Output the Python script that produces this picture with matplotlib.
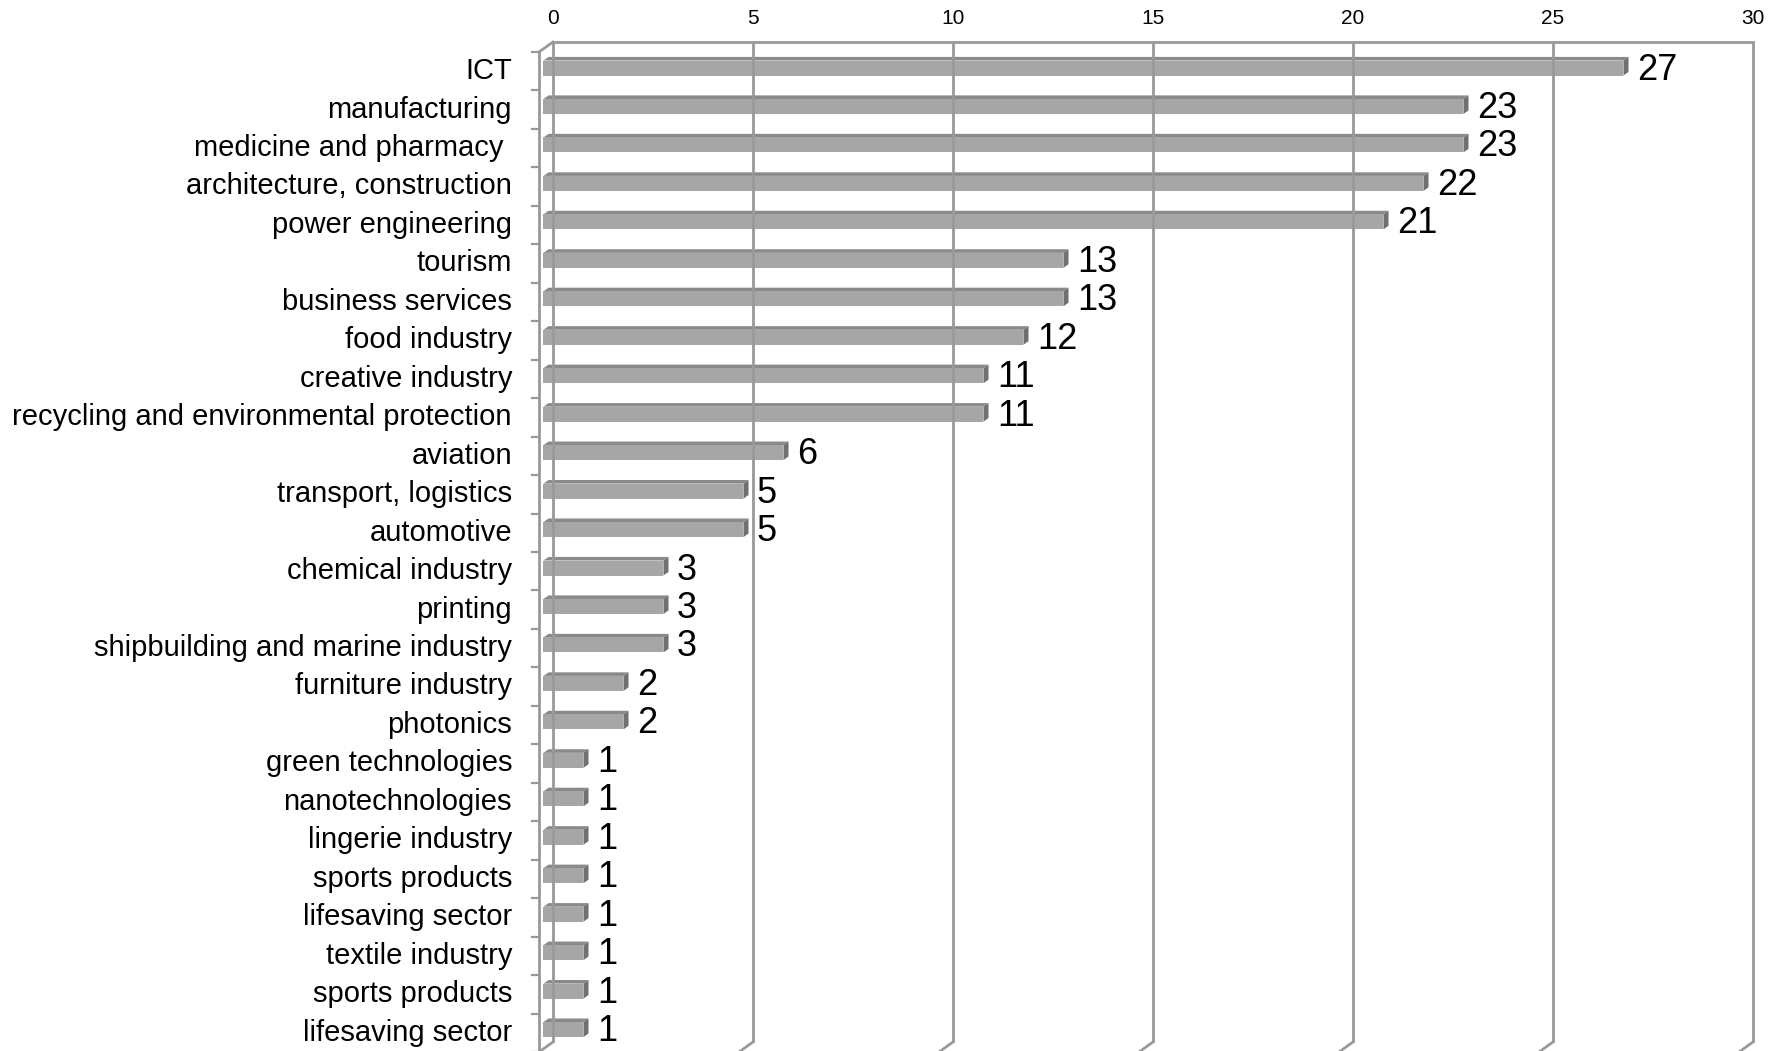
import numpy as np
import matplotlib
matplotlib.use('Agg')
import matplotlib.pyplot as plt
from matplotlib.patches import Polygon

# Sector counts
sectors = ['ICT', 'manufacturing', 'medicine and pharmacy ', 'architecture, construction',
           'power engineering', 'tourism', 'business services', 'food industry',
           'creative industry', 'recycling and environmental protection', 'aviation',
           'transport, logistics', 'automotive', 'chemical industry', 'printing',
           'shipbuilding and marine industry', 'furniture industry', 'photonics',
           'green technologies', 'nanotechnologies', 'lingerie industry', 'sports products',
           'lifesaving sector', 'textile industry', 'sports products', 'lifesaving sector']
counts = [27, 23, 23, 22, 21, 13, 13, 12, 11, 11, 6, 5, 5, 3, 3, 3, 2, 2,
          1, 1, 1, 1, 1, 1, 1, 1]
xticks = [0, 5, 10, 15, 20, 25, 30]

plt.rcParams['font.family'] = ['Liberation Sans', 'DejaVu Sans']

W, H, DPI = 1777, 1051, 100
fig = plt.figure(figsize=(W / DPI, H / DPI), dpi=DPI)
# back wall of the 3-D chart
ax = fig.add_axes([553 / W, 1 - 1042 / H, 1200 / W, 1000 / H])
n = len(sectors)
ax.set_xlim(0, 30)
ax.set_ylim(n - 0.5, -0.5)
ax.axis('off')

# depth of the pseudo 3-D box, in data units (front plane offset)
DX = -0.35
DY = 0.26
F_FRONT, F_BACK = 0.68, 0.32   # bar front / back face as fraction of depth
BAR_H = 0.39

LINE = '#999999'
LW = 2.0
FACE = '#a6a6a6'
TOP = '#8a8a8a'
SIDE = '#707070'


def pt(x, y, f):
    return (x + f * DX, y + f * DY)


top_y = -0.5
bot_y = n - 0.5
# vertical gridlines with floor diagonals
for t in xticks:
    ax.plot([t, t], [top_y, bot_y], color=LINE, lw=LW, clip_on=False,
            solid_capstyle='butt')
    x0, y0 = pt(t, bot_y, 0)
    x1, y1 = pt(t, bot_y, 1)
    ax.plot([x0, x1], [y0, y1], color=LINE, lw=LW, clip_on=False)
    ax.text(t, top_y - 0.6, str(t), ha='center', va='center', fontsize=15)
ax.plot([0, 30], [top_y, top_y], color=LINE, lw=LW, clip_on=False)

# left wall edge and front axis
fx, fy = pt(0, top_y, 1)
ax.plot([0, fx], [top_y, fy], color=LINE, lw=LW, clip_on=False)
ax.plot([fx, fx], [fy, bot_y + 2], color=LINE, lw=LW, clip_on=False)
for k in range(n + 1):
    yk = k - 0.5 + DY
    ax.plot([fx - 0.175, fx], [yk, yk], color=LINE, lw=1.6, clip_on=False)

# bars
for i, (name, v) in enumerate(zip(sectors, counts)):
    yt = i - BAR_H / 2
    yb = i + BAR_H / 2
    face = [pt(0, yt, F_FRONT), pt(v, yt, F_FRONT), pt(v, yb, F_FRONT), pt(0, yb, F_FRONT)]
    top = [pt(0, yt, F_FRONT), pt(v, yt, F_FRONT), pt(v, yt, F_BACK), pt(0, yt, F_BACK)]
    side = [pt(v, yt, F_FRONT), pt(v, yb, F_FRONT), pt(v, yb, F_BACK), pt(v, yt, F_BACK)]
    ax.add_patch(Polygon(top, closed=True, fc=TOP, ec='none', clip_on=False))
    ax.add_patch(Polygon(side, closed=True, fc=SIDE, ec='none', clip_on=False))
    ax.add_patch(Polygon(face, closed=True, fc=FACE, ec='none', clip_on=False))
    ax.text(v + 0.1, i + 0.23, str(v), ha='left', va='center', fontsize=26)
    ax.text(-1.025, i + 0.255, name, ha='right', va='center', fontsize=21)

plt.savefig('out.png', dpi=DPI)
